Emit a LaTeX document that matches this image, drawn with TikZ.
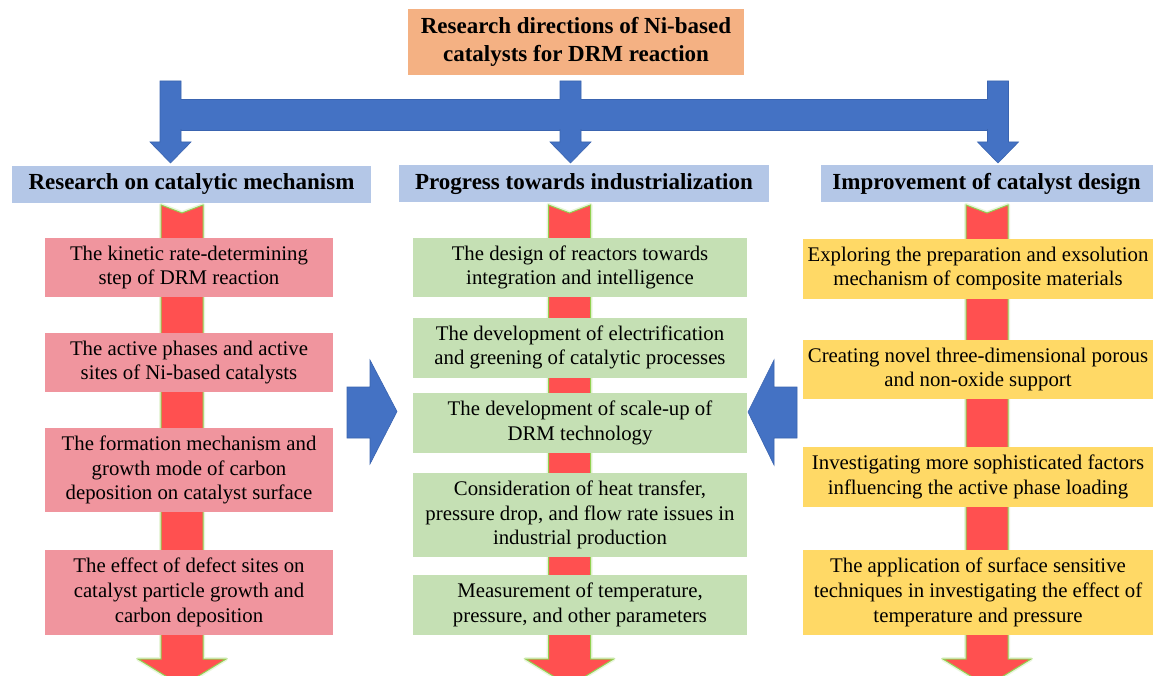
\documentclass[tikz,border=0pt]{standalone}
\usepackage{fontspec}
\setmainfont{Liberation Serif}
\definecolor{orng}{HTML}{F4B183}
\definecolor{catblue}{HTML}{B4C7E7}
\definecolor{arrblue}{HTML}{4472C4}
\definecolor{arredge}{HTML}{3A64B0}
\definecolor{redarr}{HTML}{FF5050}
\definecolor{pinkbox}{HTML}{F0959E}
\definecolor{greenbox}{HTML}{C5E0B4}
\definecolor{yellowbox}{HTML}{FFD966}
\definecolor{glow}{HTML}{92D050}
\begin{document}
\begin{tikzpicture}[x=1pt,y=-1pt,
  txtbox/.style={rectangle, inner sep=0pt, align=center, text=black,
    font=\fontsize{20.8}{24.8}\selectfont},
  pinkb/.style={txtbox, fill=pinkbox, minimum width=288pt},
  greenb/.style={txtbox, fill=greenbox, minimum width=334pt},
  yellowb/.style={txtbox, fill=yellowbox, minimum width=350pt},
  catbox/.style={rectangle, fill=catblue, inner sep=0pt, align=center, text=black,
    font=\fontsize{23}{28}\selectfont\bfseries, minimum height=37pt},
  topbox/.style={rectangle, fill=orng, inner sep=0pt, align=center, text=black,
    font=\fontsize{23}{28}\selectfont\bfseries},
  bluearrow/.style={fill=arrblue, draw=arredge, line width=0.6pt},
  redflow/.style={fill=redarr, draw=glow, line width=1pt, line join=miter},
  redglow/.style={draw=glow, line width=4pt, opacity=0.2, line join=round}
]
\useasboundingbox (0,0) rectangle (1155,676);
\clip (0,0) rectangle (1155,676);
\fill[white] (0,0) rectangle (1155,676);

% red flow arrows
\foreach \c in {182,569.5,987}{
  \draw[redglow] (\c-21,205) -- (\c,213) -- (\c+21,205) -- (\c+21,659) -- (\c+44,659) -- (\c,686) -- (\c-44,659) -- (\c-21,659) -- cycle;
  \draw[redflow] (\c-21,205) -- (\c,213) -- (\c+21,205) -- (\c+21,659) -- (\c+44,659) -- (\c,686) -- (\c-44,659) -- (\c-21,659) -- cycle;
}

% top box
\node[topbox, minimum width=336pt, minimum height=66pt] (top) at (576,42) {Research directions of Ni-based\\catalysts for DRM reaction};

% blue distribution arrows
\fill[bluearrow] (170.5,99) rectangle (998,130);
\foreach \c in {170.5,570.5,998}{
  \path[bluearrow] (\c-10.5,81) -- (\c+10.5,81) -- (\c+10.5,142) -- (\c+20.5,142) -- (\c,163) -- (\c-20.5,142) -- (\c-10.5,142) -- cycle;
}
\fill[arrblue] (171,100) rectangle (997,129);

% category boxes
\node[catbox, minimum width=359pt] (catL) at (191.5,184.5) {Research on catalytic mechanism};
\node[catbox, minimum width=370pt] (catM) at (584,184) {Progress towards industrialization};
\node[catbox, minimum width=332pt] (catR) at (986.5,184) {Improvement of catalyst design};

% left column
\node[pinkb, minimum height=59pt] (p1) at (189,267.5) {The kinetic rate-determining\\step of DRM reaction};
\node[pinkb, minimum height=59pt] (p2) at (189,362.5) {The active phases and active\\sites of Ni-based catalysts};
\node[pinkb, minimum height=84pt] (p3) at (189,470) {The formation mechanism and\\growth mode of carbon\\deposition on catalyst surface};
\node[pinkb, minimum height=85pt] (p4) at (189,592.5) {The effect of defect sites on\\catalyst particle growth and\\carbon deposition};

% middle column
\node[greenb, minimum height=59pt] (g1) at (580,267.5) {The design of reactors towards\\integration and intelligence};
\node[greenb, minimum height=60pt] (g2) at (580,347.5) {The development of electrification\\and greening of catalytic processes};
\node[greenb, minimum height=60pt] (g3) at (580,423) {The development of scale-up of\\DRM technology};
\node[greenb, minimum height=84pt] (g4) at (580,515) {Consideration of heat transfer,\\pressure drop, and flow rate issues in\\industrial production};
\node[greenb, minimum height=60pt] (g5) at (580,605) {Measurement of temperature,\\pressure, and other parameters};

% right column
\node[yellowb, minimum height=60pt] (y1) at (978,268.5) {Exploring the preparation and exsolution\\mechanism of composite materials};
\node[yellowb, minimum height=59pt] (y2) at (978,369.5) {Creating novel three-dimensional porous\\and non-oxide support};
\node[yellowb, minimum height=60pt] (y3) at (978,477) {Investigating more sophisticated factors\\influencing the active phase loading};
\node[yellowb, minimum height=85pt] (y4) at (978,592.5) {The application of surface sensitive\\techniques in investigating the effect of\\temperature and pressure};

% side blue arrows
\path[bluearrow] (347,387) -- (370,387) -- (370,360) -- (397,411.5) -- (370,464) -- (370,438) -- (347,438) -- cycle;
\path[bluearrow] (797,387) -- (774,387) -- (774,360) -- (748,412) -- (774,465) -- (774,438) -- (797,438) -- cycle;
\end{tikzpicture}
\end{document}
